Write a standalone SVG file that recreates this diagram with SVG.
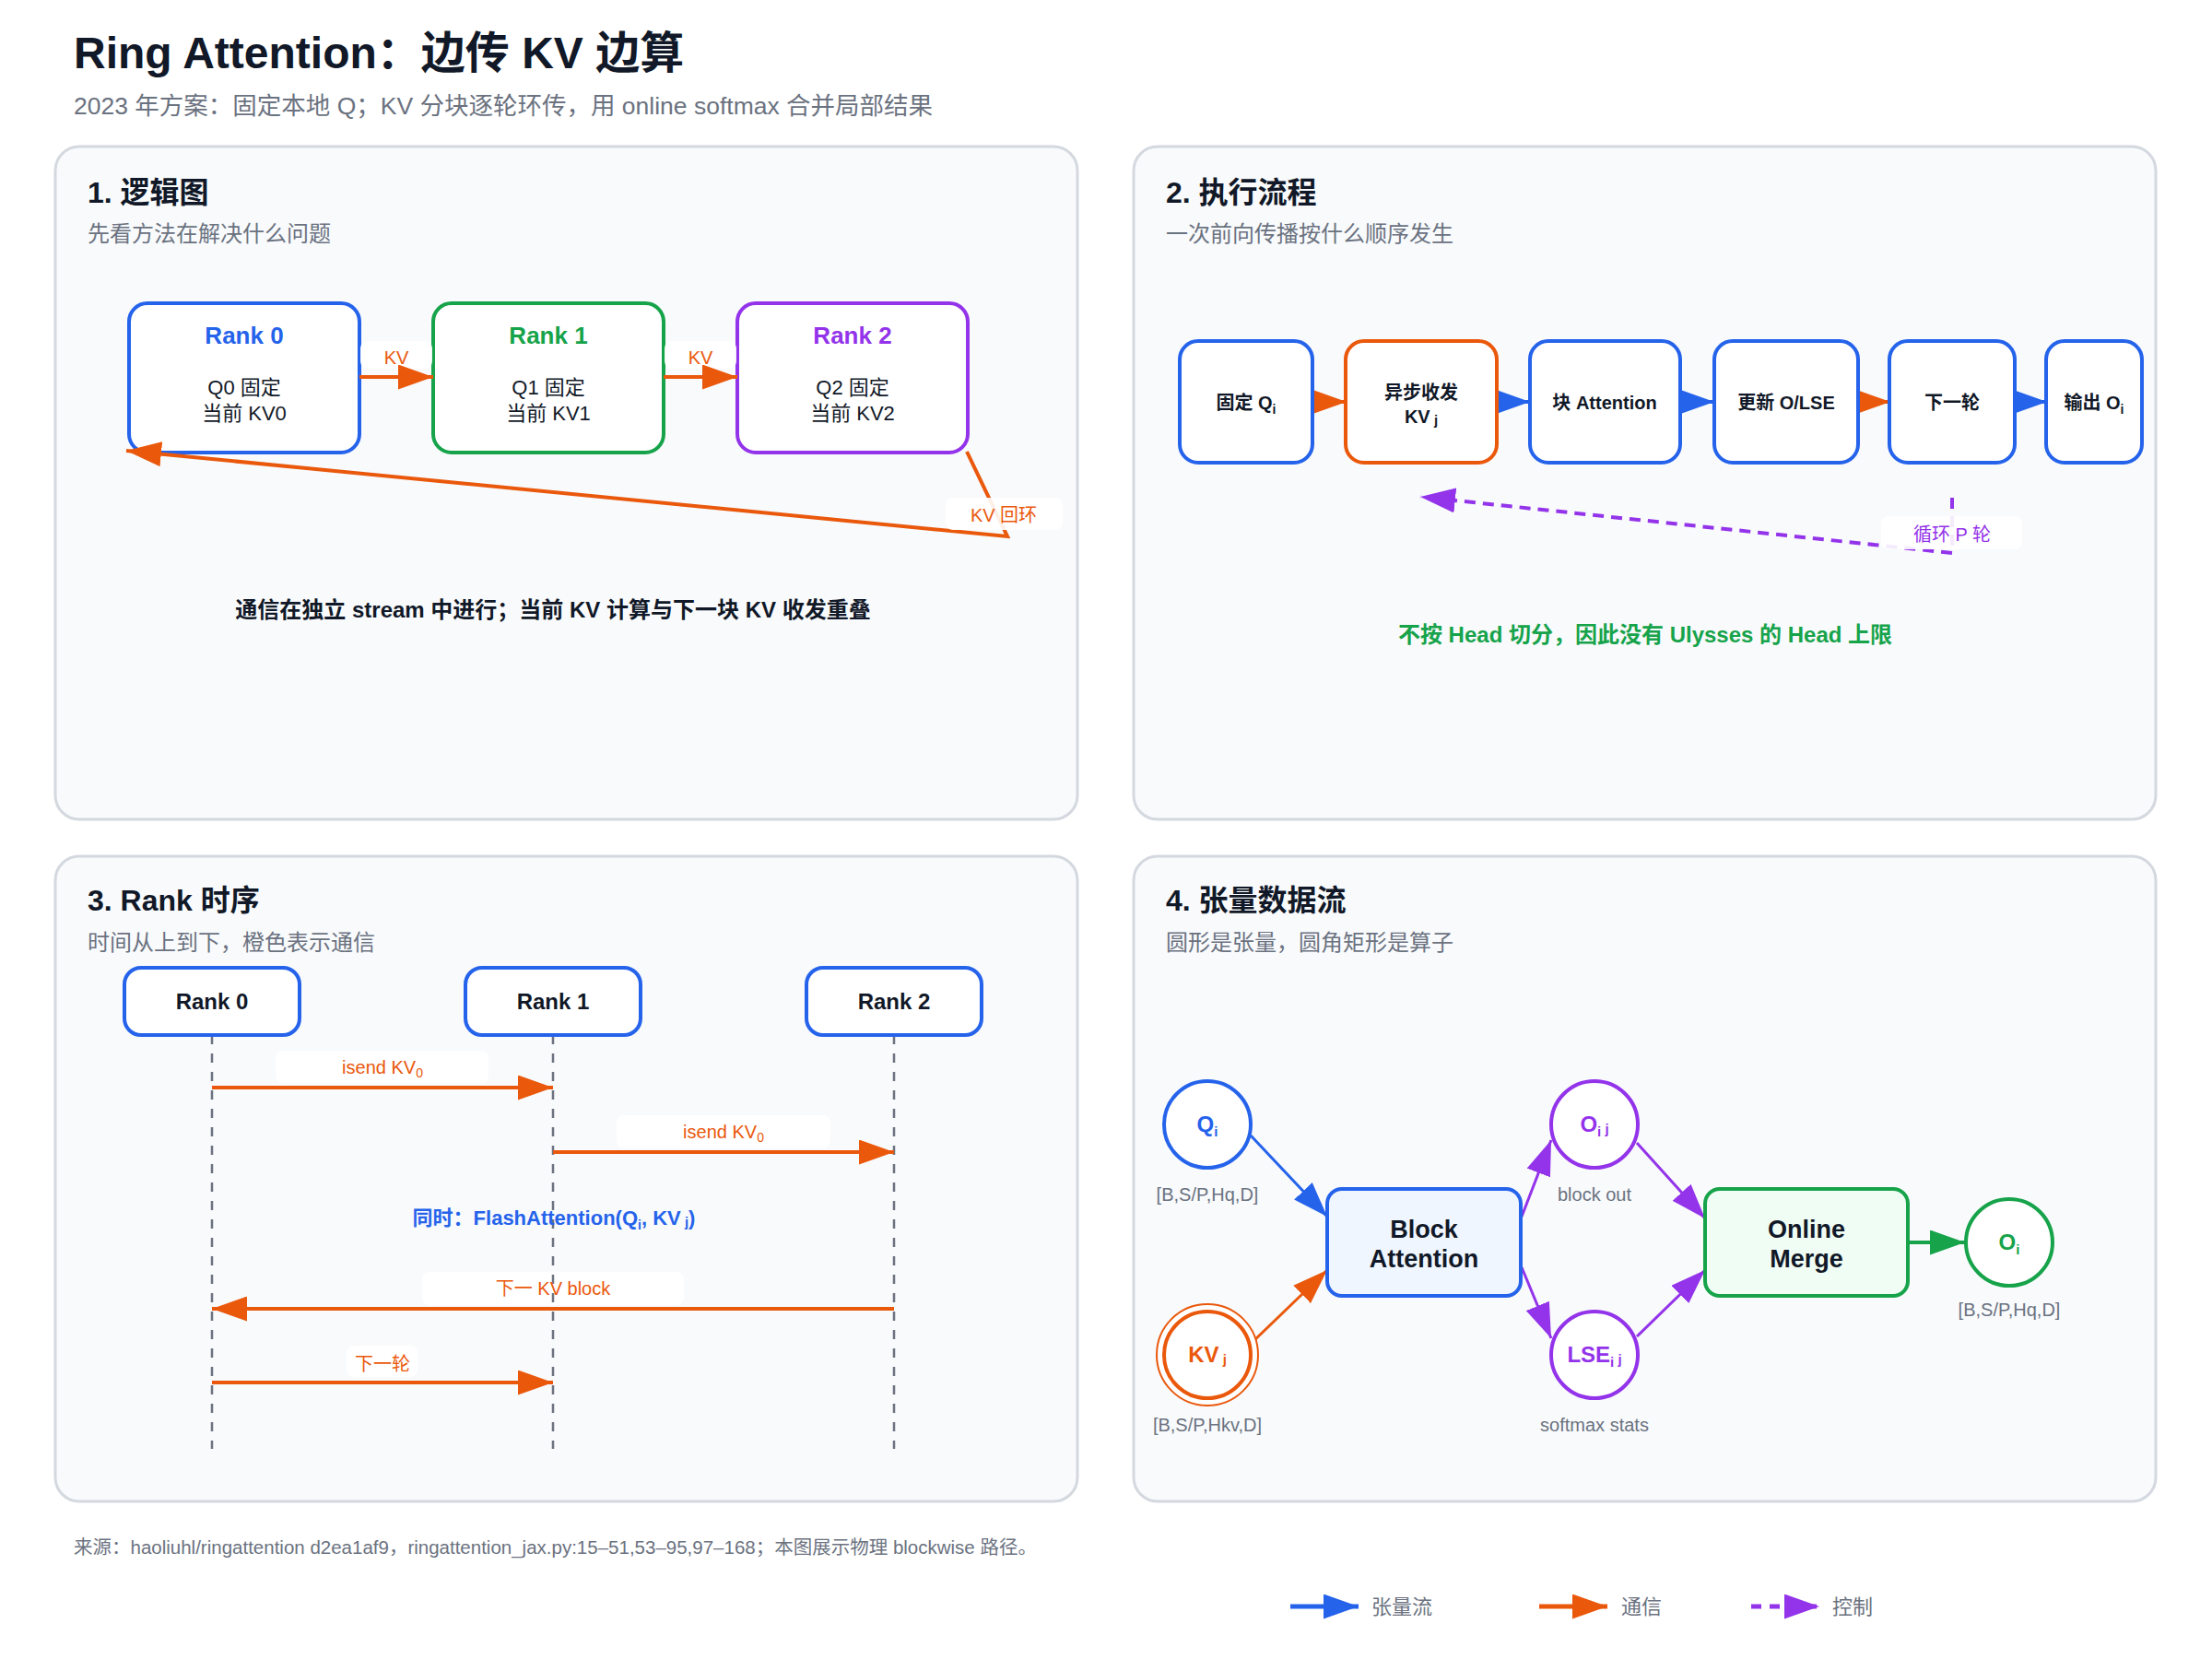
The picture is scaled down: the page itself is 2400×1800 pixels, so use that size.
<svg xmlns="http://www.w3.org/2000/svg" width="2400" height="1800" viewBox="0 0 2400 1800">
<defs>
<style>
text{font-family:"Liberation Sans","Noto Sans CJK SC",sans-serif;}
.title{font-size:48px;font-weight:700;fill:#111827;}
.subtitle{font-size:26.5px;fill:#6b7280;}
.ptitle{font-size:32px;font-weight:700;fill:#111827;}
.psub{font-size:24px;fill:#6b7280;}
.panel{fill:#f8fafc;stroke:#d4d8df;stroke-width:3;}
.box{fill:#ffffff;stroke-width:4;}
.b{stroke:#2563eb;}.g{stroke:#16a34a;}.p{stroke:#9333ea;}.o{stroke:#ea580c;}
.tb{fill:#2563eb;}.tg{fill:#16a34a;}.tp{fill:#9333ea;}.to{fill:#ea580c;}
.rk{font-size:26px;font-weight:700;text-anchor:middle;}
.body{font-size:22px;fill:#111827;text-anchor:middle;}
.flow{font-size:20px;font-weight:700;fill:#111827;text-anchor:middle;}
.lbl{font-size:20px;text-anchor:middle;}
.lbg{fill:#ffffff;fill-opacity:0.9;}
.note{font-size:24px;font-weight:700;text-anchor:middle;}
.seq{font-size:24px;font-weight:700;fill:#111827;text-anchor:middle;}
.life{stroke:#6b7280;stroke-width:2.5;stroke-dasharray:10 10;fill:none;}
.edge{fill:none;stroke-width:4;}
.tedge{fill:none;stroke-width:3;}
.shape{font-size:20px;fill:#6b7280;text-anchor:middle;}
.circ{fill:#ffffff;stroke-width:4;}
.ct{font-size:24px;font-weight:700;text-anchor:middle;}
.op{font-size:27px;font-weight:700;fill:#111827;text-anchor:middle;}
.foot{font-size:20.5px;fill:#6b7280;}
.leg{font-size:22px;fill:#6b7280;}
</style>
<marker id="ab" viewBox="0 0 10 10" refX="10" refY="5" markerWidth="38" markerHeight="27" markerUnits="userSpaceOnUse" orient="auto" preserveAspectRatio="none"><path d="M0,0 L10,5 L0,10 z" fill="#2563eb"/></marker>
<marker id="ao" viewBox="0 0 10 10" refX="10" refY="5" markerWidth="38" markerHeight="27" markerUnits="userSpaceOnUse" orient="auto" preserveAspectRatio="none"><path d="M0,0 L10,5 L0,10 z" fill="#ea580c"/></marker>
<marker id="ap" viewBox="0 0 10 10" refX="10" refY="5" markerWidth="38" markerHeight="27" markerUnits="userSpaceOnUse" orient="auto" preserveAspectRatio="none"><path d="M0,0 L10,5 L0,10 z" fill="#9333ea"/></marker>
<marker id="ag" viewBox="0 0 10 10" refX="10" refY="5" markerWidth="38" markerHeight="27" markerUnits="userSpaceOnUse" orient="auto" preserveAspectRatio="none"><path d="M0,0 L10,5 L0,10 z" fill="#16a34a"/></marker>
</defs>
<rect x="0" y="0" width="2400" height="1800" fill="#ffffff"/>

<g id="header">
<text class="title" x="80" y="74">Ring Attention：边传 KV 边算</text>
<text class="subtitle" x="80" y="124">2023 年方案：固定本地 Q；KV 分块逐轮环传，用 online softmax 合并局部结果</text>
</g>

<g id="panels">
<rect class="panel" x="60" y="159" width="1109" height="730" rx="26"/>
<rect class="panel" x="1230" y="159" width="1109" height="730" rx="26"/>
<rect class="panel" x="60" y="929" width="1109" height="700" rx="26"/>
<rect class="panel" x="1230" y="929" width="1109" height="700" rx="26"/>
<text class="ptitle" x="95" y="220">1. 逻辑图</text>
<text class="psub" x="95" y="262">先看方法在解决什么问题</text>
<text class="ptitle" x="1265" y="220">2. 执行流程</text>
<text class="psub" x="1265" y="262">一次前向传播按什么顺序发生</text>
<text class="ptitle" x="95" y="988">3. Rank 时序</text>
<text class="psub" x="95" y="1031">时间从上到下，橙色表示通信</text>
<text class="ptitle" x="1265" y="988">4. 张量数据流</text>
<text class="psub" x="1265" y="1031">圆形是张量，圆角矩形是算子</text>
</g>

<!-- Panel 1 -->
<g id="p1-rank0">
<rect class="box b" x="140" y="329" width="250" height="162" rx="20"/>
<text class="rk tb" x="265" y="373">Rank 0</text>
<text class="body" x="265" y="428">Q0 固定</text>
<text class="body" x="265" y="456">当前 KV0</text>
</g>
<g id="p1-rank1">
<rect class="box g" x="470" y="329" width="250" height="162" rx="20"/>
<text class="rk tg" x="595" y="373">Rank 1</text>
<text class="body" x="595" y="428">Q1 固定</text>
<text class="body" x="595" y="456">当前 KV1</text>
</g>
<g id="p1-rank2">
<rect class="box p" x="800" y="329" width="250" height="162" rx="20"/>
<text class="rk tp" x="925" y="373">Rank 2</text>
<text class="body" x="925" y="428">Q2 固定</text>
<text class="body" x="925" y="456">当前 KV2</text>
</g>
<g id="p1-connectors">
<rect class="lbg" x="391" y="370" width="78" height="30" rx="8"/>
<rect class="lbg" x="721" y="370" width="78" height="30" rx="8"/>
<path class="edge o" d="M390,409 L470,409" marker-end="url(#ao)"/>
<path class="edge o" d="M720,409 L800,409" marker-end="url(#ao)"/>
<text class="lbl to" x="430" y="395">KV</text>
<text class="lbl to" x="760" y="395">KV</text>
<path class="edge o" d="M1049,490 L1093,582 L137,489" marker-end="url(#ao)"/>
<rect class="lbg" x="1026" y="540" width="127" height="35" rx="8"/>
<text class="lbl to" x="1089" y="566">KV 回环</text>
</g>
<text class="note" x="600" y="670" fill="#111827">通信在独立 stream 中进行；当前 KV 计算与下一块 KV 收发重叠</text>

<!-- Panel 2 -->
<g id="p2-connectors">
<path class="edge o" d="M1424,436 L1461,436" marker-end="url(#ao)"/>
<path class="edge b" d="M1624,436 L1660,436" marker-end="url(#ab)"/>
<path class="edge b" d="M1823,436 L1860,436" marker-end="url(#ab)"/>
<path class="edge o" d="M2016,436 L2051,436" marker-end="url(#ao)"/>
<path class="edge b" d="M2186,436 L2221,436" marker-end="url(#ab)"/>
<path class="edge p" d="M2118,540 L2118,600 L1541,539" stroke-dasharray="12 8" marker-end="url(#ap)"/>
<rect class="lbg" x="2041" y="560" width="153" height="36" rx="8"/>
<text class="lbl tp" x="2118" y="587">循环 P 轮</text>
</g>
<g id="p2-fixq">
<rect class="box b" x="1280" y="370" width="144" height="132" rx="20"/>
<text class="flow" x="1352" y="444">固定 Q<tspan font-size="14" dy="5">i</tspan></text>
</g>
<g id="p2-sendrecv">
<rect class="box o" x="1460" y="370" width="164" height="132" rx="20"/>
<text class="flow" x="1542" y="433">异步收发</text>
<text class="flow" x="1542" y="459">KV<tspan font-size="15" dy="2"> j</tspan></text>
</g>
<g id="p2-attn">
<rect class="box b" x="1660" y="370" width="163" height="132" rx="20"/>
<text class="flow" x="1741" y="444">块 Attention</text>
</g>
<g id="p2-update">
<rect class="box b" x="1860" y="370" width="156" height="132" rx="20"/>
<text class="flow" x="1938" y="444">更新 O/LSE</text>
</g>
<g id="p2-next">
<rect class="box b" x="2050" y="370" width="136" height="132" rx="20"/>
<text class="flow" x="2118" y="444">下一轮</text>
</g>
<g id="p2-output">
<rect class="box b" x="2220" y="370" width="104" height="132" rx="20"/>
<text class="flow" x="2272" y="444">输出 O<tspan font-size="14" dy="5">i</tspan></text>
</g>
<text class="note tg" x="1785" y="697">不按 Head 切分，因此没有 Ulysses 的 Head 上限</text>

<!-- Panel 3 -->
<g id="p3-labels-bg">
<rect class="lbg" x="299" y="1140" width="231" height="36" rx="8"/>
<rect class="lbg" x="669" y="1210" width="232" height="36" rx="8"/>
<rect class="lbg" x="458" y="1380" width="284" height="36" rx="8"/>
<rect class="lbg" x="376" y="1460" width="77" height="34" rx="8"/>
</g>
<g id="p3-lifelines">
<path class="life" d="M230,1123 L230,1572"/>
<path class="life" d="M600,1123 L600,1572"/>
<path class="life" d="M970,1123 L970,1572"/>
</g>
<g id="p3-rank0">
<rect class="box b" x="135" y="1050" width="190" height="73" rx="18"/>
<text class="seq" x="230" y="1095">Rank 0</text>
</g>
<g id="p3-rank1">
<rect class="box b" x="505" y="1050" width="190" height="73" rx="18"/>
<text class="seq" x="600" y="1095">Rank 1</text>
</g>
<g id="p3-rank2">
<rect class="box b" x="875" y="1050" width="190" height="73" rx="18"/>
<text class="seq" x="970" y="1095">Rank 2</text>
</g>
<g id="p3-messages">
<path class="edge o" d="M230,1180 L600,1180" marker-end="url(#ao)"/>
<text class="lbl to" x="415" y="1165">isend KV<tspan font-size="14" dy="4">0</tspan></text>
<path class="edge o" d="M600,1250 L970,1250" marker-end="url(#ao)"/>
<text class="lbl to" x="785" y="1235">isend KV<tspan font-size="14" dy="4">0</tspan></text>
<text x="601" y="1329" font-size="22" font-weight="700" fill="#2563eb" text-anchor="middle">同时：FlashAttention(Q<tspan font-size="14" dy="5">i</tspan><tspan dy="-5">, KV</tspan><tspan font-size="15" dy="2"> j</tspan><tspan dy="-2">)</tspan></text>
<path class="edge o" d="M970,1420 L230,1420" marker-end="url(#ao)"/>
<text class="lbl to" x="600" y="1405">下一 KV block</text>
<path class="edge o" d="M230,1500 L600,1500" marker-end="url(#ao)"/>
<text class="lbl to" x="415" y="1487">下一轮</text>
</g>

<!-- Panel 4 -->
<g id="p4-connectors">
<path class="tedge b" d="M1357,1232 L1440,1320" marker-end="url(#ab)"/>
<path class="tedge o" d="M1358,1457 L1440,1378" marker-end="url(#ao)"/>
<path class="tedge p" d="M1651,1320 L1683,1237" marker-end="url(#ap)"/>
<path class="tedge p" d="M1651,1375 L1683,1452" marker-end="url(#ap)"/>
<path class="tedge p" d="M1776,1240 L1850,1322" marker-end="url(#ap)"/>
<path class="tedge p" d="M1776,1450 L1850,1378" marker-end="url(#ap)"/>
<path class="edge g" d="M2070,1348 L2132,1348" marker-end="url(#ag)"/>
</g>
<g id="p4-qi">
<circle class="circ b" cx="1310" cy="1220" r="47"/>
<text class="ct tb" x="1310" y="1228">Q<tspan font-size="15" dy="5">i</tspan></text>
<text class="shape" x="1310" y="1303">[B,S/P,Hq,D]</text>
</g>
<g id="p4-kvj">
<circle cx="1310" cy="1470" r="55" fill="#ffffff" stroke="#ea580c" stroke-width="2"/>
<circle cx="1310" cy="1470" r="47" fill="none" stroke="#ea580c" stroke-width="4"/>
<text class="ct to" x="1310" y="1478">KV<tspan font-size="15" dy="2"> j</tspan></text>
<text class="shape" x="1310" y="1553">[B,S/P,Hkv,D]</text>
</g>
<g id="p4-block">
<rect x="1440" y="1290" width="210" height="116" rx="16" fill="#eff6ff" stroke="#2563eb" stroke-width="4"/>
<text class="op" x="1545" y="1343">Block</text>
<text class="op" x="1545" y="1375">Attention</text>
</g>
<g id="p4-oij">
<circle class="circ p" cx="1730" cy="1220" r="47"/>
<text class="ct tp" x="1730" y="1228">O<tspan font-size="15" dy="5">i</tspan><tspan font-size="15" dy="-3"> j</tspan></text>
<text class="shape" x="1730" y="1303">block out</text>
</g>
<g id="p4-lse">
<circle class="circ p" cx="1730" cy="1470" r="47"/>
<text class="ct tp" x="1730" y="1478">LSE<tspan font-size="15" dy="5">i</tspan><tspan font-size="15" dy="-3"> j</tspan></text>
<text class="shape" x="1730" y="1553">softmax stats</text>
</g>
<g id="p4-merge">
<rect x="1850" y="1290" width="220" height="116" rx="16" fill="#f0fdf4" stroke="#16a34a" stroke-width="4"/>
<text class="op" x="1960" y="1343">Online</text>
<text class="op" x="1960" y="1375">Merge</text>
</g>
<g id="p4-oi">
<circle class="circ g" cx="2180" cy="1348" r="47"/>
<text class="ct tg" x="2180" y="1356">O<tspan font-size="15" dy="5">i</tspan></text>
<text class="shape" x="2180" y="1428">[B,S/P,Hq,D]</text>
</g>

<text class="foot" x="80" y="1686">来源：haoliuhl/ringattention d2ea1af9，ringattention_jax.py:15–51,53–95,97–168；本图展示物理 blockwise 路径。</text>

<g id="legend">
<path d="M1400,1743 L1474,1743" stroke="#2563eb" stroke-width="5" fill="none" marker-end="url(#ab)"/>
<text class="leg" x="1488" y="1751">张量流</text>
<path d="M1670,1743 L1744,1743" stroke="#ea580c" stroke-width="5" fill="none" marker-end="url(#ao)"/>
<text class="leg" x="1759" y="1751">通信</text>
<path d="M1900,1743 L1974,1743" stroke="#9333ea" stroke-width="5" fill="none" stroke-dasharray="11 9" marker-end="url(#ap)"/>
<text class="leg" x="1988" y="1751">控制</text>
</g>
</svg>
